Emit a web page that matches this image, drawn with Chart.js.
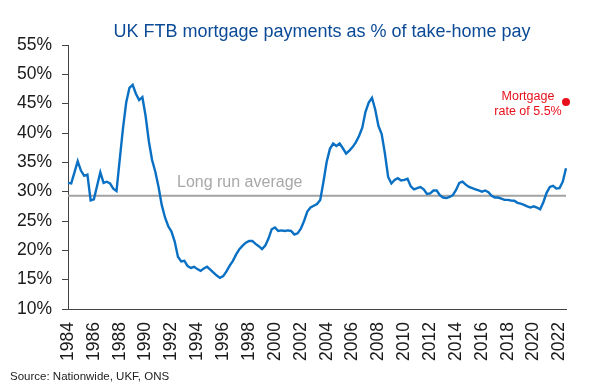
<!DOCTYPE html>
<html>
<head>
<meta charset="utf-8">
<script src="https://cdn.jsdelivr.net/npm/chart.js@4/dist/chart.umd.min.js"></script>
<style>
  html, body { margin: 0; padding: 0; background: #ffffff; }
  #wrap { width: 590px; height: 389px; }
</style>
</head>
<body>
<div id="wrap"><canvas id="c" width="590" height="389"></canvas></div>
<script>
// ---- Data (quarterly, 1984 Q1 – 2022 Q3) ----
const startYear = 1984;
const quarterCount = 155;
const tickYears = ['1984','1986','1988','1990','1992','1994','1996','1998','2000','2002',
                   '2004','2006','2008','2010','2012','2014','2016','2018','2020','2022'];
const ftbShare = [
  31.5, 31.4, 33.3, 35.2,   // 1984
  33.6, 32.7, 32.9, 28.5,   // 1985
  28.7, 31.0, 33.3, 31.5,   // 1986
  31.7, 31.4, 30.5, 30.1,   // 1987
  35.5, 40.8, 45.2, 47.7,   // 1988
  48.2, 46.7, 45.6, 46.1,   // 1989
  42.9, 38.6, 35.4, 33.4,   // 1990
  30.8, 27.7, 25.6, 24.1,   // 1991
  23.2, 21.5, 18.9, 18.1,   // 1992
  18.2, 17.3, 17.0, 17.2,   // 1993
  16.8, 16.5, 16.9, 17.2,   // 1994
  16.7, 16.2, 15.7, 15.3,   // 1995
  15.6, 16.4, 17.4, 18.2,   // 1996
  19.3, 20.2, 20.8, 21.3,   // 1997
  21.6, 21.6, 21.1, 20.7,   // 1998
  20.2, 20.8, 22.0, 23.6,   // 1999
  23.9, 23.3, 23.4, 23.3,   // 2000
  23.4, 23.3, 22.7, 22.9,   // 2001
  23.7, 25.0, 26.6, 27.3,   // 2002
  27.6, 27.9, 28.6, 31.7,   // 2003
  35.1, 37.3, 38.2, 37.8,   // 2004
  38.2, 37.4, 36.5, 37.0,   // 2005
  37.6, 38.4, 39.5, 40.9,   // 2006
  43.6, 45.2, 46.0, 44.0,   // 2007
  41.2, 39.8, 36.5, 32.5,   // 2008
  31.4, 32.0, 32.3, 31.9,   // 2009
  32.0, 32.2, 30.9, 30.4,   // 2010
  30.6, 30.8, 30.4, 29.6,   // 2011
  29.7, 30.2, 30.2, 29.4,   // 2012
  29.0, 28.9, 29.1, 29.4,   // 2013
  30.3, 31.5, 31.7, 31.2,   // 2014
  30.8, 30.6, 30.4, 30.2,   // 2015
  30.0, 30.2, 29.9, 29.3,   // 2016
  29.0, 29.0, 28.8, 28.6,   // 2017
  28.6, 28.5, 28.45, 28.1,  // 2018
  27.95, 27.75, 27.5, 27.3, // 2019
  27.5, 27.3, 27.0, 28.2,   // 2020
  29.8, 30.8, 31.0, 30.55,  // 2021
  30.6, 31.7, 34.0          // 2022
];
const longRunAverage = 29.3;
const mortgageScenario = 45.3;   // at 2022 Q3, mortgage rate of 5.5%
const yTicks = [10, 15, 20, 25, 30, 35, 40, 45, 50, 55];

// ---- Derived tables for the library ----
const labels = [];
for (let i = 0; i < quarterCount; i++) {
  labels.push((startYear + Math.floor(i / 4)) + ' Q' + (i % 4 + 1));
}
const avgSeries = labels.map(() => longRunAverage);
const scenarioSeries = labels.map((_, i) => i === quarterCount - 1 ? mortgageScenario : null);

const FONT = "'Liberation Sans', Arial, sans-serif";

const textPlugin = {
  id: 'texts',
  afterDraw(chart) {
    const ctx = chart.ctx;
    const ca = chart.chartArea;
    const xs = chart.scales.x, ys = chart.scales.y;
    ctx.save();
    // Title
    ctx.fillStyle = '#0b4a97';
    ctx.font = "18px " + FONT;
    ctx.textAlign = 'center';
    ctx.textBaseline = 'middle';
    ctx.fillText('UK FTB mortgage payments as % of take-home pay', 322, 32);
    // Long run average label
    ctx.fillStyle = '#a8a8a8';
    ctx.font = "16px " + FONT;
    ctx.textAlign = 'left';
    ctx.textBaseline = 'alphabetic';
    ctx.fillText('Long run average', ca.left + 109, ys.getPixelForValue(longRunAverage) - 9);
    // Scenario annotation
    const px = xs.getPixelForValue(quarterCount - 1);
    const py = ys.getPixelForValue(mortgageScenario);
    ctx.fillStyle = '#e8101a';
    ctx.font = "12.5px " + FONT;
    ctx.textAlign = 'center';
    ctx.textBaseline = 'middle';
    ctx.fillText('Mortgage', px - 38, py - 5);
    ctx.fillText('rate of 5.5%', px - 38, py + 10);
    // Source
    ctx.fillStyle = '#222222';
    ctx.font = "11.5px " + FONT;
    ctx.textAlign = 'left';
    ctx.fillText('Source: Nationwide, UKF, ONS', 10, 377);
    ctx.restore();
  }
};

new Chart(document.getElementById('c'), {
  type: 'line',
  data: {
    labels: labels,
    datasets: [
      {
        label: 'Long run average',
        data: avgSeries,
        borderColor: '#a3a3a3',
        borderWidth: 2,
        pointRadius: 0,
        tension: 0,
        order: 2
      },
      {
        label: 'FTB mortgage payments as % of take-home pay',
        data: ftbShare,
        borderColor: '#0a70c4',
        borderWidth: 2.4,
        pointRadius: 0,
        tension: 0,
        order: 1
      },
      {
        label: 'Mortgage rate of 5.5%',
        data: scenarioSeries,
        borderColor: '#e8101a',
        backgroundColor: '#e8101a',
        showLine: false,
        pointRadius: 4,
        pointBorderWidth: 0,
        clip: false,
        order: 0
      }
    ]
  },
  options: {
    responsive: false,
    animation: false,
    devicePixelRatio: 1,
    layout: { padding: { top: 45, right: 24, left: 0, bottom: 0 } },
    plugins: { legend: { display: false }, tooltip: { enabled: false }, title: { display: false } },
    scales: {
      x: {
        type: 'category',
        grid: { display: false, drawTicks: false },
        border: { display: true, color: '#444444', width: 1 },
        ticks: {
          autoSkip: false,
          minRotation: 90,
          maxRotation: 90,
          padding: 13,
          color: '#1a1a1a',
          font: { family: FONT, size: 17.5 },
          callback: (v, i) => (i % 8 === 0 ? tickYears[i / 8] : '')
        },
        afterFit: (s) => { s.height = 80; s.paddingLeft = 0; s.paddingRight = 0; }
      },
      y: {
        min: 10,
        max: 55,
        afterBuildTicks: (s) => { s.ticks = yTicks.map(v => ({ value: v })); },
        grid: { drawOnChartArea: false, drawTicks: true, tickLength: 6, color: '#444444' },
        border: { display: true, color: '#444444', width: 1 },
        ticks: {
          padding: 10,
          color: '#1a1a1a',
          font: { family: FONT, size: 17.5 },
          callback: (v) => v + '%'
        },
        afterFit: (s) => { s.width = 68; s.paddingTop = 0; s.paddingBottom = 0; }
      }
    }
  },
  plugins: [textPlugin]
});
</script>
</body>
</html>
